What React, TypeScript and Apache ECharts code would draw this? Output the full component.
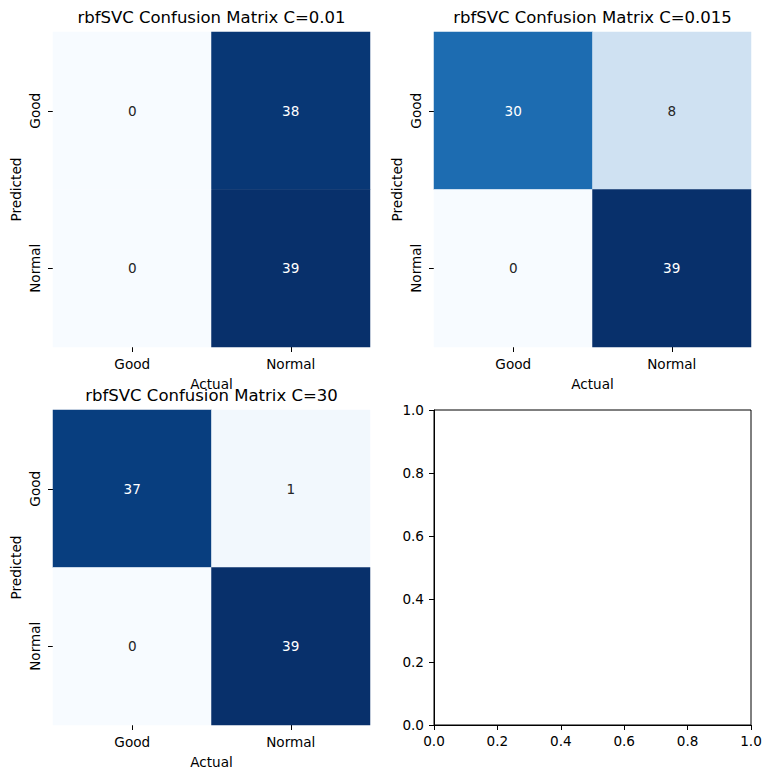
import React, { useEffect, useRef } from "react";
import * as echarts from "echarts";

// ---- data ----
const classes = ["Good", "Normal"];
const titles = [
  "rbfSVC Confusion Matrix C=0.01",
  "rbfSVC Confusion Matrix C=0.015",
  "rbfSVC Confusion Matrix C=30",
];
// rows: Predicted (Good, Normal); cols: Actual (Good, Normal)
const matrixC001 = [
  [0, 38],
  [0, 39],
];
const matrixC0015 = [
  [30, 8],
  [0, 39],
];
const matrixC30 = [
  [37, 1],
  [0, 39],
];
const matrices = [matrixC001, matrixC0015, matrixC30];

// matplotlib "Blues" colormap stops
const BLUES = [
  "#f7fbff", "#deebf7", "#c6dbef", "#9ecae1", "#6baed6",
  "#4292c6", "#2171b5", "#08519c", "#08306b",
];

const FONT = "DejaVu Sans";

function hexToRgb(h: string) {
  const n = parseInt(h.slice(1), 16);
  return [(n >> 16) & 255, (n >> 8) & 255, n & 255];
}
function blues(t: number) {
  const n = BLUES.length - 1;
  const p = Math.min(Math.max(t, 0), 1) * n;
  const i = Math.min(Math.floor(p), n - 1);
  const f = p - i;
  const a = hexToRgb(BLUES[i]);
  const b = hexToRgb(BLUES[i + 1]);
  return a.map((v, k) => (v + (b[k] - v) * f) / 255);
}
function luminance(rgb: number[]) {
  const lin = rgb.map((c) => (c <= 0.03928 ? c / 12.92 : Math.pow((c + 0.055) / 1.055, 2.4)));
  return 0.2126 * lin[0] + 0.7152 * lin[1] + 0.0722 * lin[2];
}

const grids = [
  { left: 53, top: 32, width: 317, height: 315 },
  { left: 434, top: 32, width: 317, height: 315 },
  { left: 53, top: 410, width: 317, height: 315 },
  { left: 434, top: 410, width: 317, height: 315 },
];

export default function App() {
  const ref = useRef<HTMLDivElement>(null);
  useEffect(() => {
    document.body.style.margin = "0";
    if (!ref.current) return;
    const chart = echarts.init(ref.current, undefined, { renderer: "svg" });

    const tickStyle = { show: true, alignWithLabel: true, length: 5, lineStyle: { color: "#000", width: 1 } };
    const labelStyle = { color: "#000", fontSize: 13.6, fontFamily: FONT };

    const xAxes: any[] = [];
    const yAxes: any[] = [];
    const series: any[] = [];
    const visualMaps: any[] = [];
    const titleOpts: any[] = [];

    matrices.forEach((m, i) => {
      const flat = m.flat();
      const vmin = Math.min(...flat);
      const vmax = Math.max(...flat);
      xAxes.push({
        type: "category",
        gridIndex: i,
        data: classes,
        name: "Actual",
        nameLocation: "middle",
        nameGap: 30,
        nameTextStyle: labelStyle,
        axisLine: { show: false },
        axisTick: tickStyle,
        axisLabel: { ...labelStyle, margin: 10 },
        splitLine: { show: false },
      });
      yAxes.push({
        type: "category",
        gridIndex: i,
        data: classes,
        inverse: true,
        name: "Predicted",
        nameLocation: "middle",
        nameGap: 30,
        nameRotate: 90,
        nameTextStyle: labelStyle,
        axisLine: { show: false },
        axisTick: tickStyle,
        axisLabel: { ...labelStyle, margin: 11, rotate: 90 },
        splitLine: { show: false },
      });
      const data: any[] = [];
      m.forEach((row, r) =>
        row.forEach((v, c) => {
          const t = vmax > vmin ? (v - vmin) / (vmax - vmin) : 0;
          const dark = luminance(blues(t)) <= 0.408;
          data.push({
            value: [c, r, v],
            label: { color: dark ? "#ffffff" : "#262626" },
          });
        })
      );
      series.push({
        type: "heatmap",
        xAxisIndex: i,
        yAxisIndex: i,
        data,
        label: { show: true, fontSize: 13.6, fontFamily: FONT },
        emphasis: { disabled: true },
      });
      visualMaps.push({
        type: "continuous",
        show: false,
        seriesIndex: i,
        dimension: 2,
        min: vmin,
        max: vmax,
        inRange: { color: BLUES },
      });
      const g = grids[i];
      titleOpts.push({
        text: titles[i],
        left: g.left + g.width / 2,
        top: g.top - 23,
        textAlign: "center",
        padding: 0,
        textStyle: { color: "#000", fontSize: 16.5, fontWeight: "normal", fontFamily: FONT },
      });
    });

    // empty fourth axes
    const emptyAxisCommon = {
      type: "value",
      gridIndex: 3,
      min: 0,
      max: 1,
      interval: 0.2,
      axisLine: { show: true, lineStyle: { color: "#000", width: 1 } },
      axisTick: { show: true, length: 5, lineStyle: { color: "#000", width: 1 } },
      splitLine: { show: false },
    };
    xAxes.push({ ...emptyAxisCommon, axisLabel: { ...labelStyle, margin: 9, formatter: (v: number) => v.toFixed(1) } });
    yAxes.push({ ...emptyAxisCommon, axisLabel: { ...labelStyle, margin: 10, formatter: (v: number) => v.toFixed(1) } });
    series.push({ type: "line", xAxisIndex: 3, yAxisIndex: 3, data: [], silent: true });

    chart.setOption({
      animation: false,
      backgroundColor: "#ffffff",
      textStyle: { fontFamily: FONT },
      title: titleOpts,
      grid: grids.map((g, i) => ({
        ...g,
        containLabel: false,
        show: i === 3,
        borderColor: "#000",
        borderWidth: 1,
        backgroundColor: "transparent",
      })),
      xAxis: xAxes,
      yAxis: yAxes,
      visualMap: visualMaps,
      series,
    });
    return () => chart.dispose();
  }, []);
  return <div ref={ref} style={{ width: 771, height: 778 }} />;
}
